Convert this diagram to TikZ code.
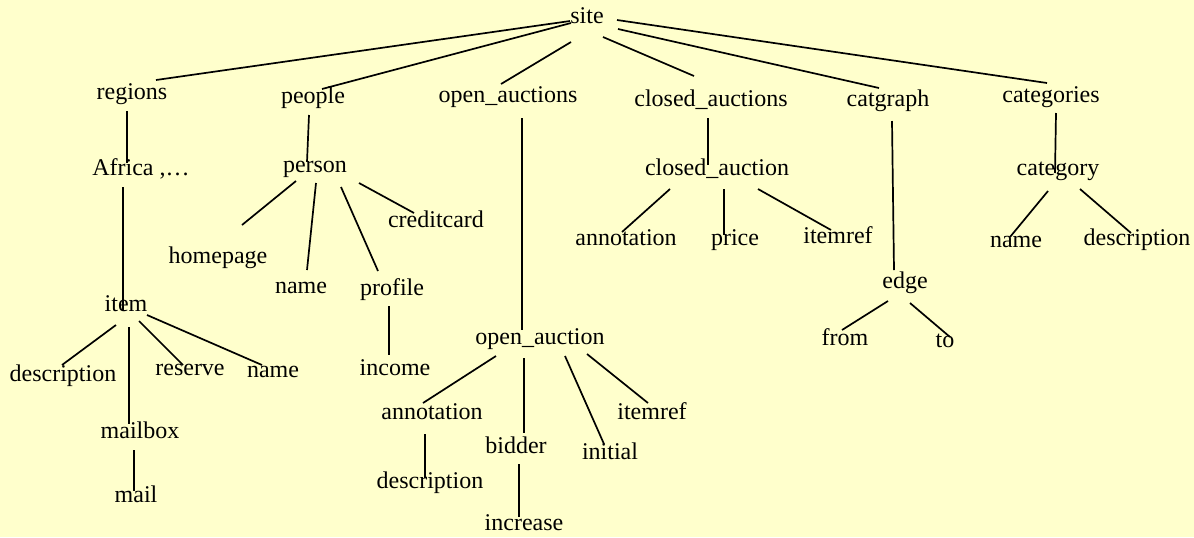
\documentclass[tikz,border=0pt]{standalone}
\usepackage{fontspec}
\setmainfont{Liberation Serif}
\definecolor{bgyellow}{HTML}{FFFFCC}
\tikzset{
  lbl/.style={inner sep=0pt, anchor=base, font=\fontsize{12}{14}\selectfont, text=black},
  conn/.style={draw=black, line width=0.85pt}
}
\begin{document}
\begin{tikzpicture}[x=0.5pt,y=-0.5pt]
\fill[bgyellow] (0,0) rectangle (1194,537);
\useasboundingbox (0,0) rectangle (1194,537);
% nodes
\node[lbl] (site) at (587,23) {site};
\node[lbl] (regions) at (132,99) {regions};
\node[lbl] (people) at (313,103) {people};
\node[lbl] (oas) at (508,102) {open\_auctions};
\node[lbl] (cas) at (711,106) {closed\_auctions};
\node[lbl] (catgraph) at (888,106) {catgraph};
\node[lbl] (categories) at (1051,102) {categories};
\node[lbl] (africa) at (141,175) {Africa ,…};
\node[lbl] (person) at (315,172) {person};
\node[lbl] (ca) at (717,175) {closed\_auction};
\node[lbl] (category) at (1058,175) {category};
\node[lbl] (creditcard) at (436,227) {creditcard};
\node[lbl] (homepage) at (218,263) {homepage};
\node[lbl] (pname) at (301,293) {name};
\node[lbl] (profile) at (392,295) {profile};
\node[lbl] (annot1) at (626,245) {annotation};
\node[lbl] (price) at (735,245) {price};
\node[lbl] (itemref1) at (838,243) {itemref};
\node[lbl] (cname) at (1016,247) {name};
\node[lbl] (cdesc) at (1137,245) {description};
\node[lbl] (edge) at (905,288) {edge};
\node[lbl] (from) at (845,345) {from};
\node[lbl] (to) at (945,347) {to};
\node[lbl] (item) at (126,311) {item};
\node[lbl] (idesc) at (63,381) {description};
\node[lbl] (reserve) at (190,375) {reserve};
\node[lbl] (iname) at (273,377) {name};
\node[lbl] (mailbox) at (140,438) {mailbox};
\node[lbl] (mail) at (136,502) {mail};
\node[lbl] (income) at (395,375) {income};
\node[lbl] (oa) at (540,344) {open\_auction};
\node[lbl] (annot2) at (432,419) {annotation};
\node[lbl] (adesc) at (430,488) {description};
\node[lbl] (bidder) at (516,453) {bidder};
\node[lbl] (increase) at (524,530) {increase};
\node[lbl] (initial) at (610,459) {initial};
\node[lbl] (itemref2) at (652,419) {itemref};
% connectors
\draw[conn] ([shift={(-17,-2)}]site.base) -- ([shift={(24,-19)}]regions.base);
\draw[conn] ([shift={(-16,0)}]site.base) -- ([shift={(9,-14)}]people.base);
\draw[conn] ([shift={(-16,19)}]site.base) -- ([shift={(-7,-18)}]oas.base);
\draw[conn] ([shift={(16,14)}]site.base) -- ([shift={(-17,-30)}]cas.base);
\draw[conn] ([shift={(31,6)}]site.base) -- ([shift={(-9,-18)}]catgraph.base);
\draw[conn] ([shift={(30,-3)}]site.base) -- ([shift={(-4,-19)}]categories.base);
\draw[conn] ([shift={(-5,12)}]regions.base) -- ([shift={(-14,-12)}]africa.base);
\draw[conn] ([shift={(-18,12)}]africa.base) -- ([shift={(-3,-1)}]item.base);
\draw[conn] ([shift={(-10,14)}]item.base) -- ([shift={(-1,-16)}]idesc.base);
\draw[conn] ([shift={(3,16)}]item.base) -- ([shift={(-11,-14)}]mailbox.base);
\draw[conn] ([shift={(13,10)}]item.base) -- ([shift={(-7,-10)}]reserve.base);
\draw[conn] ([shift={(21,4)}]item.base) -- ([shift={(-11,-12)}]iname.base);
\draw[conn] ([shift={(-6,12)}]mailbox.base) -- ([shift={(-2,-11)}]mail.base);
\draw[conn] ([shift={(-4,12)}]people.base) -- ([shift={(-8,-10)}]person.base);
\draw[conn] ([shift={(-19,9)}]person.base) -- ([shift={(24,-38)}]homepage.base);
\draw[conn] ([shift={(1,11)}]person.base) -- ([shift={(6,-23)}]pname.base);
\draw[conn] ([shift={(26,15)}]person.base) -- ([shift={(-14,-24)}]profile.base);
\draw[conn] ([shift={(44,11)}]person.base) -- ([shift={(-22,-14)}]creditcard.base);
\draw[conn] ([shift={(-3,11)}]profile.base) -- ([shift={(-6,-20)}]income.base);
\draw[conn] ([shift={(14,16)}]oas.base) -- ([shift={(-18,-14)}]oa.base);
\draw[conn] ([shift={(-44,12)}]oa.base) -- ([shift={(-9,-16)}]annot2.base);
\draw[conn] ([shift={(-16,14)}]oa.base) -- ([shift={(8,-20)}]bidder.base);
\draw[conn] ([shift={(25,12)}]oa.base) -- ([shift={(-6,-15)}]initial.base);
\draw[conn] ([shift={(47,10)}]oa.base) -- ([shift={(-4,-16)}]itemref2.base);
\draw[conn] ([shift={(-7,15)}]annot2.base) -- ([shift={(-5,-10)}]adesc.base);
\draw[conn] ([shift={(3,11)}]bidder.base) -- ([shift={(-5,-13)}]increase.base);
\draw[conn] ([shift={(-3,12)}]cas.base) -- ([shift={(-9,-10)}]ca.base);
\draw[conn] ([shift={(-47,14)}]ca.base) -- ([shift={(-4,-13)}]annot1.base);
\draw[conn] ([shift={(7,14)}]ca.base) -- ([shift={(-11,-10)}]price.base);
\draw[conn] ([shift={(41,14)}]ca.base) -- ([shift={(-7,-13)}]itemref1.base);
\draw[conn] ([shift={(4,15)}]catgraph.base) -- ([shift={(-11,-18)}]edge.base);
\draw[conn] ([shift={(-17,13)}]edge.base) -- ([shift={(-3,-15)}]from.base);
\draw[conn] ([shift={(5,15)}]edge.base) -- ([shift={(5,-10)}]to.base);
\draw[conn] ([shift={(5,11)}]categories.base) -- ([shift={(-3,-2)}]category.base);
\draw[conn] ([shift={(-10,16)}]category.base) -- ([shift={(-6,-10)}]cname.base);
\draw[conn] ([shift={(22,14)}]category.base) -- ([shift={(-6,-12)}]cdesc.base);
\end{tikzpicture}
\end{document}
